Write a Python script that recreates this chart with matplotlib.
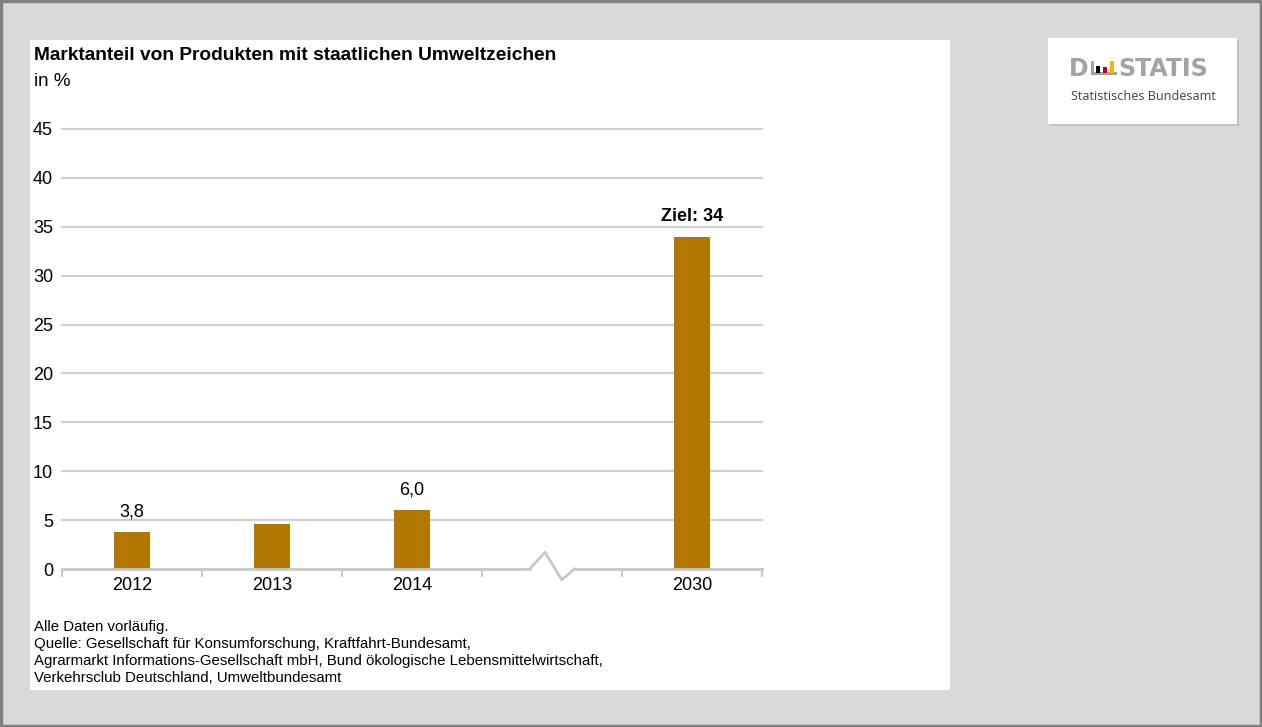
import matplotlib.pyplot as plt
from matplotlib.patches import Rectangle

years = ["2012", "2013", "2014", "", "2030"]
values = [3.8, 4.6, 6.0, None, 34.0]
value_labels = ["3,8", "", "6,0", "", "Ziel: 34"]
yticks = [0, 5, 10, 15, 20, 25, 30, 35, 40, 45]

title = "Marktanteil von Produkten mit staatlichen Umweltzeichen"
unit = "in %"
notes = [
    "Alle Daten vorläufig.",
    "Quelle: Gesellschaft für Konsumforschung, Kraftfahrt-Bundesamt,",
    "Agrarmarkt Informations-Gesellschaft mbH, Bund ökologische Lebensmittelwirtschaft,",
    "Verkehrsclub Deutschland, Umweltbundesamt",
]

plt.rcParams["font.family"] = ["Liberation Sans", "DejaVu Sans"]

W, H = 1262, 727
fig = plt.figure(figsize=(W / 100, H / 100), dpi=100, facecolor="#d9d9d9")


def px(x, y):
    return x / W, 1 - y / H


def box(x0, y0, x1, y1, z=-10, **kw):
    r = Rectangle(px(x0, y1), (x1 - x0) / W, (y1 - y0) / H,
                  transform=fig.transFigure, zorder=z, **kw)
    fig.patches.append(r)


# outer frame, white panel, logo box
box(1, 1, W - 1, H - 1, facecolor="none", edgecolor="#808080", linewidth=2.5)
box(30, 40, 950, 690, facecolor="white", edgecolor="none")
box(1050, 40, 1239, 126, facecolor="#c4c4c4", edgecolor="none")
box(1048, 38, 1237, 124, facecolor="white", edgecolor="none")

# logo
logo_grey = "#a3a3a3"
fig.text(*px(1069, 69), "D", fontsize=17, fontweight="bold", color=logo_grey,
         family="DejaVu Sans", va="center")
box(1091, 61, 1094, 75, z=5, facecolor=logo_grey, edgecolor="none")
box(1091, 72.5, 1117, 75, z=5, facecolor=logo_grey, edgecolor="none")
box(1096, 66, 1100, 72.5, z=5, facecolor="#000000", edgecolor="none")
box(1103, 67, 1107, 72.5, z=5, facecolor="#d00000", edgecolor="none")
box(1110, 61, 1114, 72.5, z=5, facecolor="#f2b600", edgecolor="none")
fig.text(*px(1118, 69), "STATIS", fontsize=17, fontweight="bold", color=logo_grey,
         family="DejaVu Sans", va="center")
fig.text(*px(1071, 96), "Statistisches Bundesamt", fontsize=9.1, color="#404040",
         family=["Open Sans", "DejaVu Sans"], va="center")

# titles
fig.text(*px(34, 56), title, fontsize=13.8, fontweight="bold", va="center")
fig.text(*px(34, 81), unit, fontsize=13.5, va="center")
for i, line in enumerate(notes):
    fig.text(*px(34, 627 + i * 17), line, fontsize=10.8, va="center")

# axes: x 62..762, y 129..569
ax = fig.add_axes([62 / W, (H - 569) / H, 700 / W, 440 / H])
ax.set_facecolor("none")
xs = list(range(len(years)))
for x, v, lab in zip(xs, values, value_labels):
    if v is None:
        continue
    ax.bar(x, v, width=0.26, color="#b07800", zorder=3)
    if lab:
        bold = lab.startswith("Ziel")
        ax.text(x, v + 1.2, lab, ha="center", va="bottom", fontsize=13,
                fontweight="bold" if bold else "normal")

ax.set_xlim(-0.5, 4.5)
ax.set_ylim(0, 45)
ax.set_yticks(yticks)
ax.set_yticklabels([str(t) for t in yticks], fontsize=13)
for t in yticks[1:]:
    ax.axhline(t, color="#d0d0d0", linewidth=1.5, zorder=0, clip_on=False)
ax.tick_params(axis="y", length=0, pad=6.5)

ax.set_xticks([x for x, y in zip(xs, years) if y])
ax.set_xticklabels([y for y in years if y], fontsize=13)
ax.set_xticks([-0.5, 0.5, 1.5, 2.5, 3.5, 4.5], minor=True)
ax.tick_params(axis="x", which="major", length=0, pad=6)
ax.tick_params(axis="x", which="minor", length=6, width=1.5, color="#c8c8c8")
for s in ax.spines.values():
    s.set_visible(False)

# x axis with break
axc = "#c8c8c8"
ax.plot([-0.5, 2.84], [0, 0], color=axc, linewidth=2, clip_on=False, zorder=4)
ax.plot([2.84, 2.95, 3.07, 3.16], [0, 1.7, -1.1, 0], color=axc, linewidth=2, clip_on=False, zorder=4)
ax.plot([3.16, 4.5], [0, 0], color=axc, linewidth=2, clip_on=False, zorder=4)

fig.savefig("out.png", dpi=100, facecolor=fig.get_facecolor())
